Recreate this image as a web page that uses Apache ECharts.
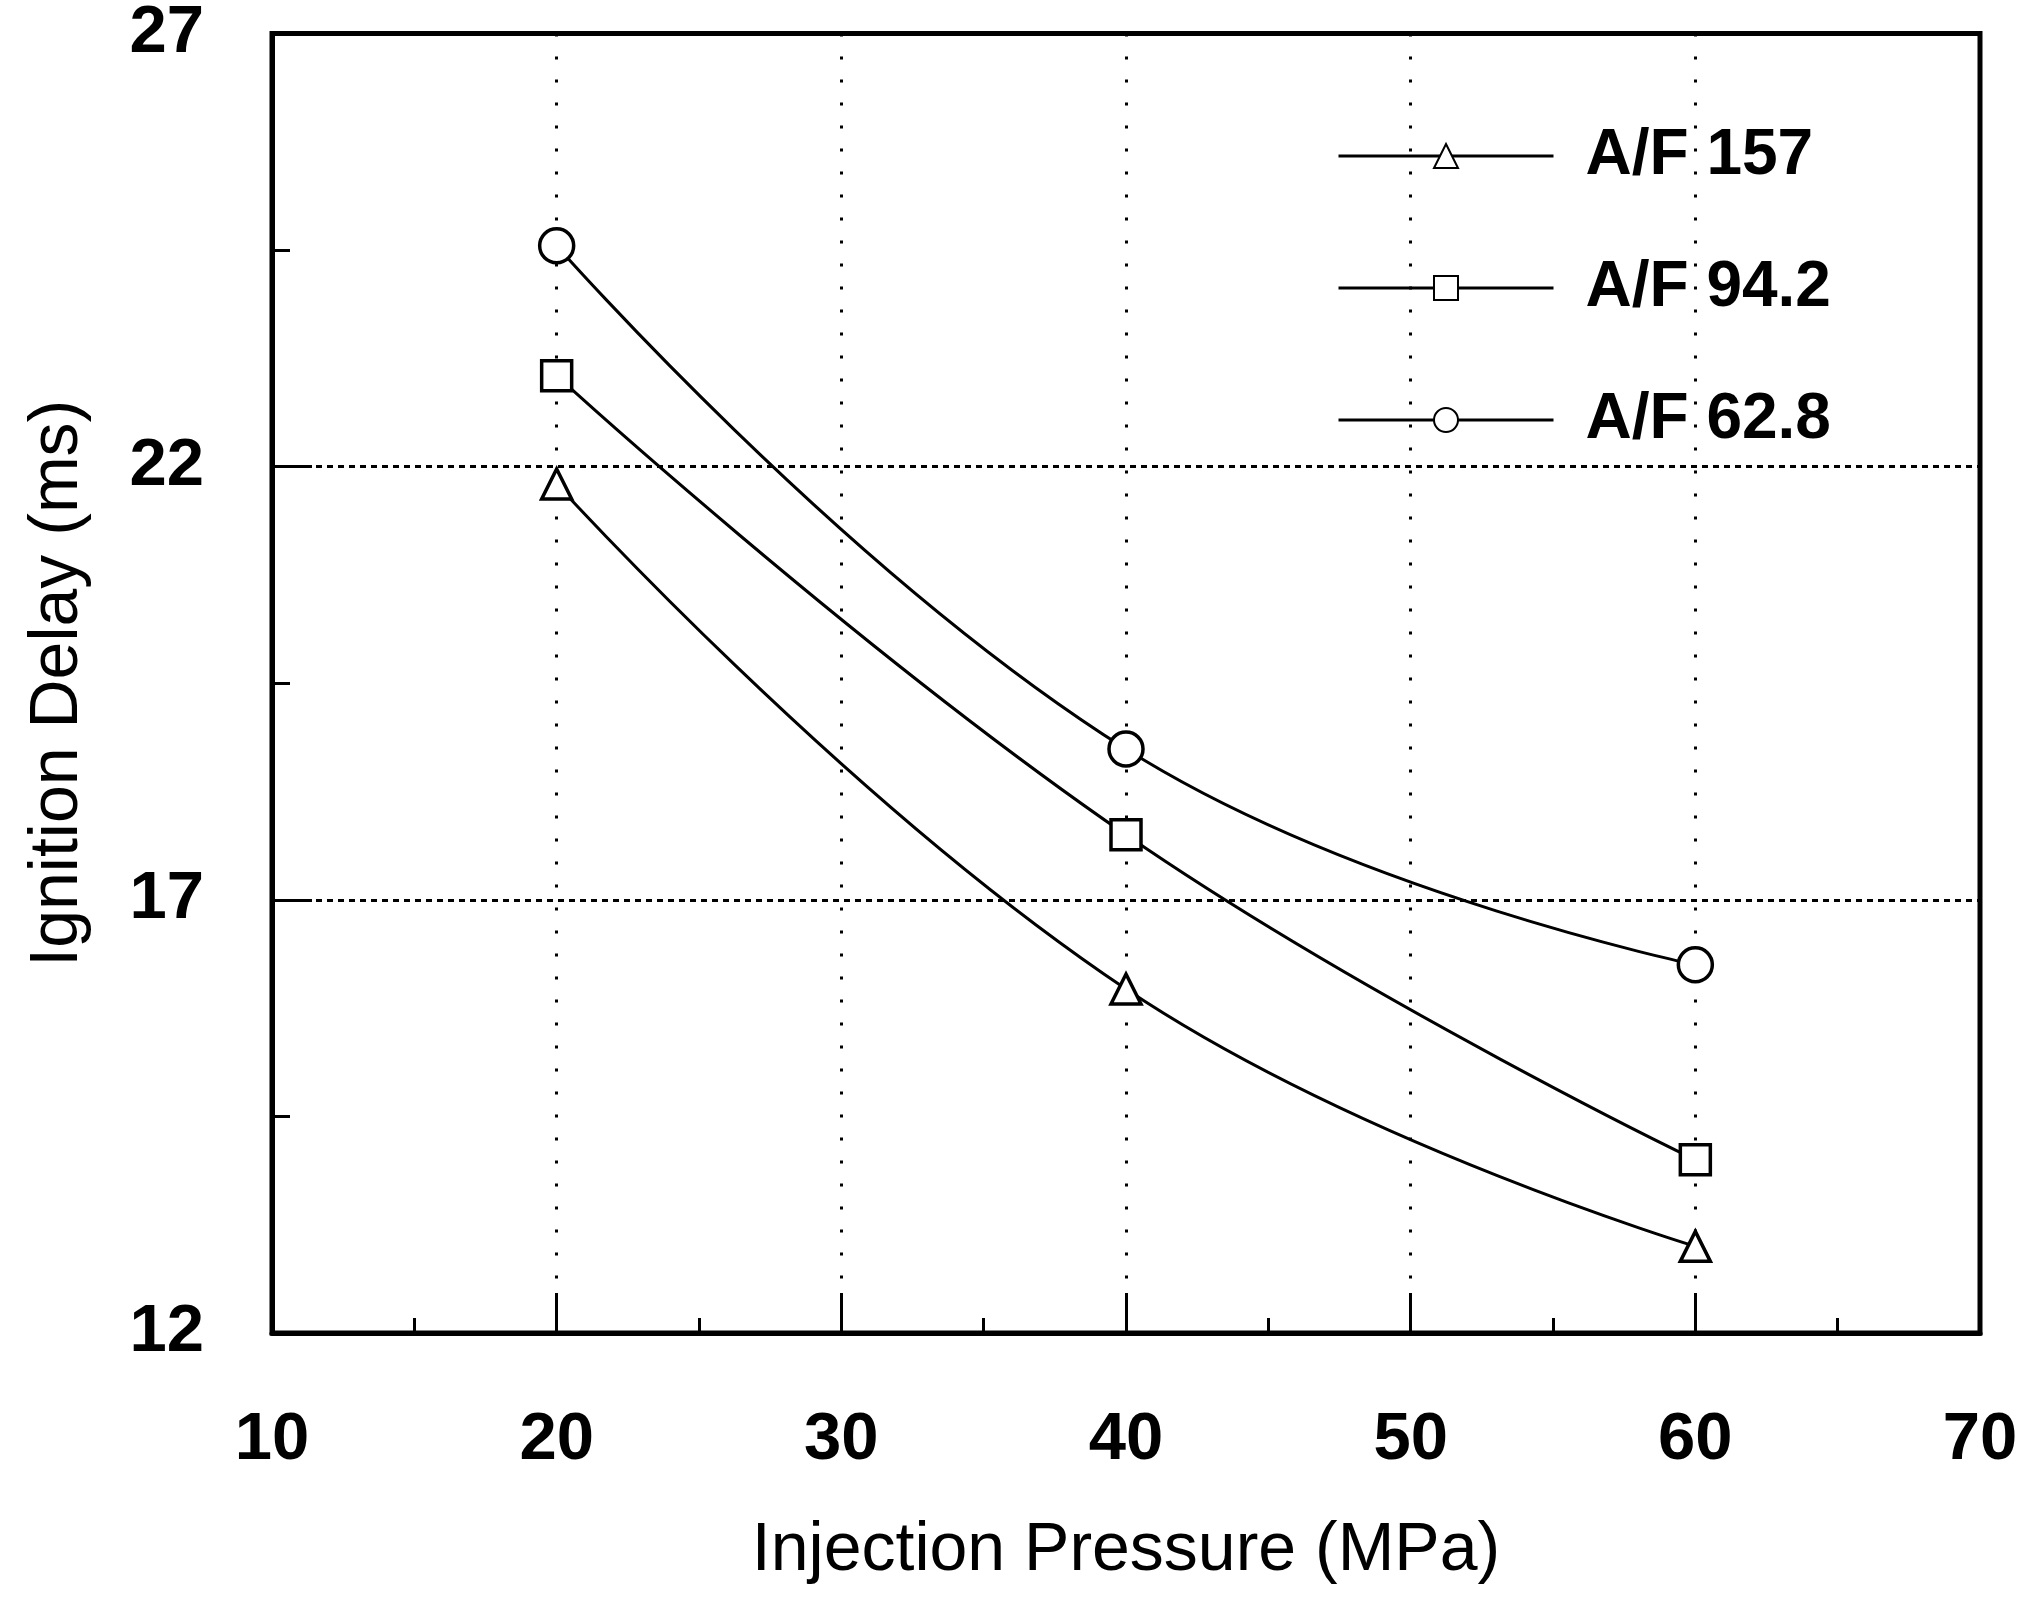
<!DOCTYPE html>
<html>
<head>
<meta charset="utf-8">
<script src="https://cdn.jsdelivr.net/npm/echarts@6/dist/echarts.min.js"></script>
<style>
html,body{margin:0;padding:0;background:#fff;}
#chart{width:2026px;height:1600px;}
</style>
</head>
<body>
<div id="chart"></div>
<script>
// ---- data ----
const pressures = [20, 40, 60];
const af157 = [21.8, 15.97, 13.0];
const af942 = [23.05, 17.75, 14.0];
const af628 = [24.55, 18.74, 16.25];
const seriesNames = ['A/F 157', 'A/F 94.2', 'A/F 62.8'];
const seriesSymbols = ['triangle', 'rect', 'circle'];
const xMin = 10, xMax = 70, xStep = 10;
const yMin = 12, yMax = 27;
const yLabelValues = [12, 17, 22, 27];
const yMinorValues = [14.5, 19.5, 24.5];
const yGridValues = [17, 22];
const xTitle = 'Injection Pressure (MPa)';
const yTitle = 'Ignition Delay (ms)';

const FONT = "'Liberation Sans', Arial, Helvetica, sans-serif";
const chart = echarts.init(document.getElementById('chart'), null, {renderer: 'canvas'});

const seriesData = [af157, af942, af628];
const symbolSizes = [30, 30, 34];

const series = seriesNames.map((name, i) => ({
  name: name,
  type: 'line',
  smooth: 0.45,
  data: pressures.map((p, j) => [p, seriesData[i][j]]),
  symbol: seriesSymbols[i],
  symbolSize: symbolSizes[i],
  showAllSymbol: true,
  lineStyle: {color: '#000', width: 3},
  itemStyle: {color: '#fff', borderColor: '#000', borderWidth: 3.5},
  z: 5
}));

// horizontal dotted grid lines at 17 and 22
series.push({
  name: '_grid',
  type: 'line',
  data: [],
  silent: true,
  markLine: {
    silent: true,
    symbol: ['none', 'none'],
    label: {show: false},
    lineStyle: {color: '#000', width: 3, type: [6, 5]},
    data: yGridValues.map(v => ({yAxis: v}))
  },
  z: 1
});

const option = {
  backgroundColor: '#fff',
  animation: false,
  grid: {
    left: 272, right: 46, top: 27, bottom: 267,
    show: true, borderColor: '#000', borderWidth: 5, backgroundColor: 'transparent'
  },
  legend: {
    orient: 'vertical',
    left: 1332,
    top: 116,
    itemWidth: 215,
    itemHeight: 30,
    itemGap: 62,
    data: seriesNames,
    lineStyle: {width: 3, color: '#000'},
    textStyle: {
      fontFamily: FONT, fontSize: 64, fontWeight: 'bold', color: '#000',
      lineHeight: 70, padding: [0, 0, 0, 27]
    }
  },
  xAxis: {
    type: 'value',
    min: xMin, max: xMax, interval: xStep,
    name: xTitle,
    nameLocation: 'middle',
    nameGap: 184,
    nameTextStyle: {fontFamily: FONT, fontSize: 68, color: '#000'},
    axisLine: {show: true, lineStyle: {color: '#000', width: 5}},
    axisTick: {show: true, inside: true, length: 40, lineStyle: {color: '#000', width: 3}},
    minorTick: {show: true, splitNumber: 2, length: 15, lineStyle: {color: '#000', width: 3}},
    axisLabel: {fontFamily: FONT, fontSize: 67, fontWeight: 'bold', color: '#000', margin: 74},
    splitLine: {show: true, lineStyle: {color: '#000', width: 3, type: [3, 20]}}
  },
  yAxis: [{
    type: 'value',
    min: yMin, max: yMax,
    name: yTitle,
    nameLocation: 'middle',
    nameGap: 180,
    nameTextStyle: {fontFamily: FONT, fontSize: 68, color: '#000'},
    axisLine: {show: true, lineStyle: {color: '#000', width: 5}},
    axisTick: {show: true, inside: true, length: 40, customValues: yLabelValues, lineStyle: {color: '#000', width: 3}},
    axisLabel: {fontFamily: FONT, fontSize: 67, fontWeight: 'bold', color: '#000', margin: 68, customValues: yLabelValues},
    splitLine: {show: false}
  }, {
    type: 'value',
    min: yMin, max: yMax,
    position: 'left',
    axisLine: {show: false},
    axisTick: {show: true, inside: true, length: 18, customValues: yMinorValues, lineStyle: {color: '#000', width: 3}},
    axisLabel: {show: false},
    splitLine: {show: false}
  }],
  series: series
};
chart.setOption(option);
</script>
</body>
</html>
